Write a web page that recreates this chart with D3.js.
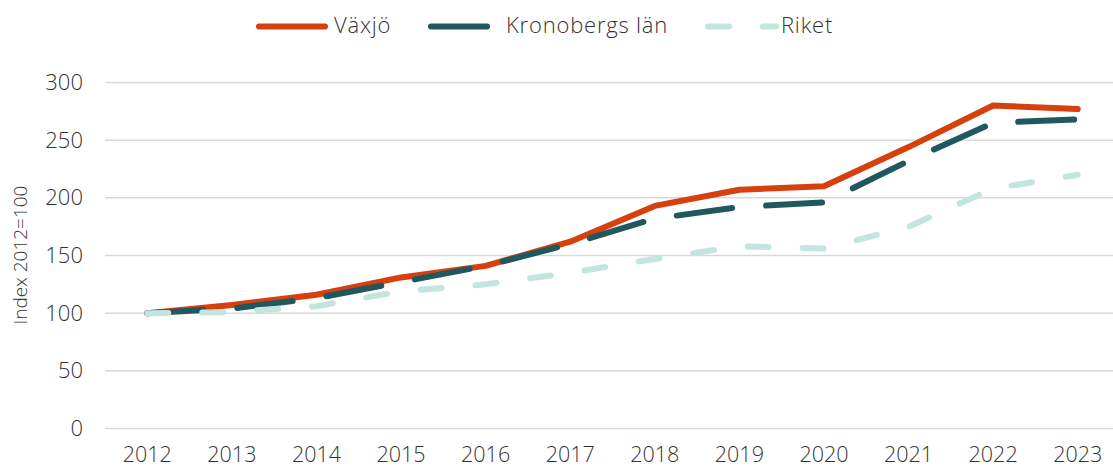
<!DOCTYPE html>
<html><head><meta charset="utf-8">
<script src="https://cdn.jsdelivr.net/npm/d3@7"></script>
<style>body{margin:0;background:#fff}svg{display:block}text{font-family:"Open Sans",Lato,sans-serif;font-weight:300;fill:#333}</style>
</head><body><svg id="c" width="1113" height="468"></svg>
<script>
const years = ["2012","2013","2014","2015","2016","2017","2018","2019","2020","2021","2022","2023"];
const vaxjo = [100,107,116,131,141,162,193,207,210,244,280,277];
const kronoberg = [100,104,113,127,141,160,182,192,196,232,265,268];
const riket = [100,101,106,119,125,135,147,158,156,175,208,220];
const yTicks = [0,50,100,150,200,250,300];
const seriesNames = ["Växjö","Kronobergs län","Riket"];
const colors = ["#d6400e","#215860","#c2e5e0"];
const FONT = "'Open Sans',Lato,sans-serif";

const svg = d3.select("#c");
const x = d3.scaleBand().domain(years).range([105,1120]).padding(0);
const y = d3.scaleLinear().domain([0,300]).range([428.5,82.5]);
const cx = d => x(d) + x.bandwidth()/2;

svg.append("g").selectAll("line").data(yTicks).join("line")
  .attr("x1",105).attr("x2",1113).attr("y1",d=>y(d)).attr("y2",d=>y(d))
  .attr("stroke","#d9d9d9").attr("stroke-width",1.5);

const ya = svg.append("g").attr("transform","translate(83,0)")
  .call(d3.axisLeft(y).tickValues(yTicks).tickSize(0).tickPadding(0));
ya.select(".domain").remove();
ya.selectAll("text").attr("font-size",22).attr("fill","#333")
  .style("font-family",FONT).style("font-weight",300);

const xa = svg.append("g").attr("transform","translate(0,0)")
  .call(d3.axisBottom(x).tickSize(0).tickPadding(0));
xa.select(".domain").remove();
xa.selectAll("text").attr("font-size",21.5).attr("fill","#333").attr("y",462).attr("dy",null)
  .style("font-family",FONT).style("font-weight",300);

svg.append("text").attr("transform","translate(27,255) rotate(-90)")
  .attr("text-anchor","middle").attr("font-size",19).text("Index 2012=100");

const line = d3.line().x((d,i)=>cx(years[i])).y(d=>y(d));
const data = [vaxjo,kronoberg,riket];
const dashes = [null,"56,34","21,34"];
data.forEach((s,k)=>{
  svg.append("path").datum(s).attr("d",line).attr("fill","none")
    .attr("stroke",colors[k]).attr("stroke-width",6)
    .attr("stroke-linecap","round").attr("stroke-linejoin","round")
    .attr("stroke-dasharray",dashes[k]);
});

const leg = [
  {x1:259,x2:325,tx:334},
  {x1:431,x2:488,tx:506},
  {x1:708,x2:776,tx:781}
];
leg.forEach((l,k)=>{
  svg.append("line").attr("x1",l.x1).attr("x2",l.x2).attr("y1",26.5).attr("y2",26.5)
    .attr("stroke",colors[k]).attr("stroke-width",6).attr("stroke-linecap","round")
    .attr("stroke-dasharray",dashes[k]);
  svg.append("text").attr("x",l.tx).attr("y",33)
    .attr("font-size",22).attr("letter-spacing",0.8).text(seriesNames[k]);
});
</script></body></html>
